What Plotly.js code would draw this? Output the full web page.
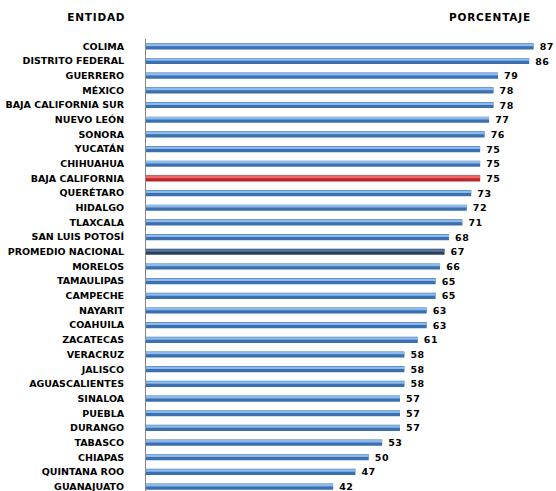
<!DOCTYPE html>
<html><head><meta charset="utf-8">
<script src="https://cdn.plot.ly/plotly-3.0.1.min.js"></script>
<style>
html,body{margin:0;padding:0;background:#fff}
#chart .annotation-text{letter-spacing:0.8px}
#chart .bartext{letter-spacing:0.5px}
</style>
</head><body><div id="chart" style="width:556px;height:491px"></div>
<script>
const entidades = ["COLIMA","DISTRITO FEDERAL","GUERRERO","MÉXICO","BAJA CALIFORNIA SUR","NUEVO LEÓN","SONORA","YUCATÁN","CHIHUAHUA","BAJA CALIFORNIA","QUERÉTARO","HIDALGO","TLAXCALA","SAN LUIS POTOSÍ","PROMEDIO NACIONAL","MORELOS","TAMAULIPAS","CAMPECHE","NAYARIT","COAHUILA","ZACATECAS","VERACRUZ","JALISCO","AGUASCALIENTES","SINALOA","PUEBLA","DURANGO","TABASCO","CHIAPAS","QUINTANA ROO","GUANAJUATO"];
const porcentaje = [87,86,79,78,78,77,76,75,75,75,73,72,71,68,67,66,65,65,63,63,61,58,58,58,57,57,57,53,50,47,42];
const destacadoRojo = "BAJA CALIFORNIA";
const destacadoPromedio = "PROMEDIO NACIONAL";

const baseColors = entidades.map(e => e===destacadoRojo ? "#b8262a" : e===destacadoPromedio ? "#283f5e" : "#3a6fb0");
const hiColors = entidades.map(e => e===destacadoRojo ? "#f2686a" : e===destacadoPromedio ? "#56769e" : "#8dbaea");
const fontBold = {family:"DejaVu Sans", size:9.5, color:"#000", weight:"bold"};
const fontHead = {family:"DejaVu Sans", size:10.5, color:"#000", weight:"bold"};

const traces = [
  {type:"bar", orientation:"h", y:entidades, x:porcentaje, width:0.42,
   marker:{color:baseColors, line:{width:0}},
   text:porcentaje.map(v=>" "+v), textposition:"outside", cliponaxis:false, constraintext:"none",
   textfont:fontBold, hoverinfo:"x+y"},
  {type:"bar", orientation:"h", y:entidades, x:porcentaje, width:0.17, offset:-0.18,
   marker:{color:hiColors, line:{width:0}}, hoverinfo:"skip"}
];
const layout = {
  width:556, height:491, showlegend:false, barmode:"overlay",
  margin:{l:146, r:9, t:39, b:0},
  paper_bgcolor:"#fff", plot_bgcolor:"#fff",
  xaxis:{range:[0,90], visible:false, fixedrange:true},
  yaxis:{type:"category", range:[30.3,-0.5], showline:true, linecolor:"#888", linewidth:1,
         ticks:"", showgrid:false, tickfont:fontBold, ticklabelstandoff:19, fixedrange:true},
  annotations:[
    {xref:"paper", yref:"paper", x:-0.052, y:1.049, xanchor:"right", yanchor:"middle", text:"ENTIDAD", showarrow:false, font:fontHead},
    {xref:"paper", yref:"paper", x:0.955, y:1.049, xanchor:"right", yanchor:"middle", text:"PORCENTAJE", showarrow:false, font:fontHead}
  ]
};
Plotly.newPlot("chart", traces, layout, {staticPlot:true, displayModeBar:false});
</script></body></html>
